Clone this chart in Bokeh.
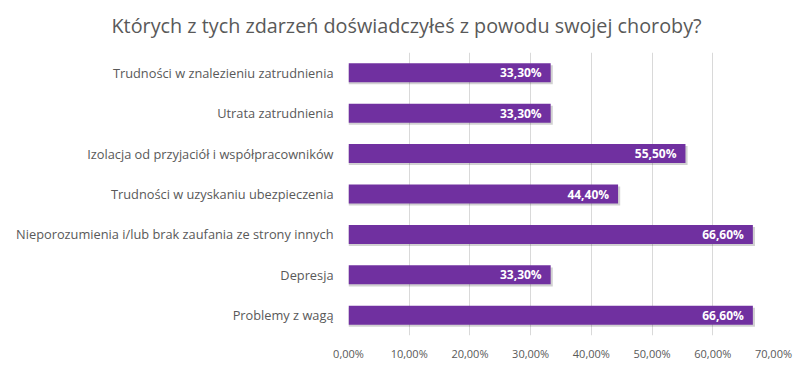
from bokeh.plotting import figure
from bokeh.models import ColumnDataSource, FixedTicker, Range1d, FactorRange
from bokeh.transform import dodge
from bokeh.core.properties import value
from bokeh.embed import file_html
from bokeh.resources import INLINE

title_text = "Których z tych zdarzeń doświadczyłeś z powodu swojej choroby?"
categories = [
    "Trudności w znalezieniu zatrudnienia",
    "Utrata zatrudnienia",
    "Izolacja od przyjaciół i współpracowników",
    "Trudności w uzyskaniu ubezpieczenia",
    "Nieporozumienia i/lub brak zaufania ze strony innych",
    "Depresja",
    "Problemy z wagą",
]
values = [33.3, 33.3, 55.5, 44.4, 66.6, 33.3, 66.6]
tick_values = [0, 10, 20, 30, 40, 50, 60, 70]
tick_labels = ["0,00%", "10,00%", "20,00%", "30,00%", "40,00%", "50,00%", "60,00%", "70,00%"]

labels = [f"{v:.2f}".replace(".", ",") + "%" for v in values]
FONT = "Open Sans"
GRAY = "#595959"

src = ColumnDataSource(dict(cat=categories, val=values, lab=labels,
                            shadow=[v + 0.35 for v in values]))

p = figure(width=803, height=370, output_backend="svg", toolbar_location=None,
           y_range=FactorRange(*list(reversed(categories)), range_padding=0),
           x_range=Range1d(0, 70),
           min_border_left=348, min_border_right=30, min_border_top=50, min_border_bottom=35)

p.title.text = title_text
p.title.align = "left"
p.title.vertical_align = "top"
p.title.offset = -237
p.title.standoff = 23
p.title.text_font = FONT
p.title.text_font_size = "19.8px"
p.title.text_font_style = "normal"
p.title.text_color = GRAY

p.outline_line_color = None
p.ygrid.grid_line_color = None
p.xgrid.grid_line_color = "#d9d9d9"
p.xgrid.grid_line_width = 1

p.xaxis.ticker = FixedTicker(ticks=tick_values)
p.xaxis.major_label_overrides = {t: l for t, l in zip(tick_values, tick_labels)}
p.xaxis.axis_line_color = None
p.xaxis.major_tick_line_color = None
p.xaxis.major_tick_out = 0
p.xaxis.minor_tick_line_color = None
p.xaxis.major_label_text_font = FONT
p.xaxis.major_label_text_font_size = "11px"
p.xaxis.major_label_text_color = GRAY
p.xaxis.major_label_standoff = 10

p.yaxis.axis_line_color = None
p.yaxis.major_tick_line_color = None
p.yaxis.major_tick_out = 0
p.yaxis.minor_tick_line_color = None
p.yaxis.major_label_text_font = FONT
p.yaxis.major_label_text_font_size = "12.8px"
p.yaxis.major_label_text_color = GRAY
p.yaxis.major_label_standoff = 15

# shadow
p.hbar(y=dodge("cat", -0.05, range=p.y_range), left=0, right="shadow", height=0.47,
       source=src, fill_color="#000000", fill_alpha=0.18, line_color=None)
p.hbar(y="cat", left=0, right="val", height=0.47, source=src,
       fill_color="#7030A0", line_color=None)
p.text(x="val", y="cat", text="lab", source=src, x_offset=-9,
       text_align="right", text_baseline="middle", text_color="white",
       text_font=value(FONT), text_font_size="12px", text_font_style="bold")

open("out.html", "w").write(file_html(p, INLINE))
